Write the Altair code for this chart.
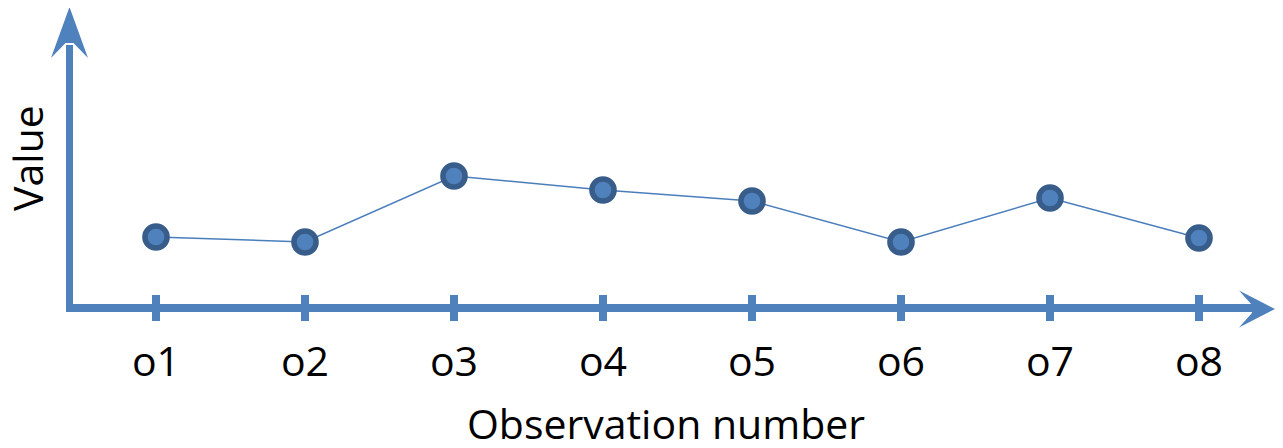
import altair as alt
import pandas as pd

labels = ["o1", "o2", "o3", "o4", "o5", "o6", "o7", "o8"]
index = [1, 2, 3, 4, 5, 6, 7, 8]
values = [3.55, 3.3, 6.6, 5.9, 5.35, 3.3, 5.5, 3.5]

df = pd.DataFrame({"idx": index, "label": labels, "value": values, "zero": [0] * len(index)})

BLUE = "#4F81BD"
DARK = "#385D8A"
FONT = "Open Sans"
FS = 41

xs = alt.Scale(domain=[1, 8], range=[148, 1191])
ys = alt.Scale(domain=[0, 15], range=[300, 0])
one = alt.Data(values=[{}])

base = alt.Chart(df)

line = base.mark_line(color="#4A7EBB", strokeWidth=1.5).encode(
    x=alt.X("idx:Q", scale=xs, axis=None),
    y=alt.Y("value:Q", scale=ys, axis=None),
)
pts = base.mark_point(filled=False, shape="circle", size=490, fill=BLUE, fillOpacity=1,
                      stroke=DARK, strokeWidth=5.5, opacity=1).encode(
    x=alt.X("idx:Q", scale=xs, axis=None),
    y=alt.Y("value:Q", scale=ys, axis=None),
)
ticks = base.mark_tick(orient="vertical", size=26, thickness=8, color=BLUE, opacity=1).encode(
    x=alt.X("idx:Q", scale=xs, axis=None),
    y=alt.Y("zero:Q", scale=ys, axis=None),
)
tlabels = base.mark_text(font=FONT, fontSize=FS, color="black", baseline="alphabetic", align="center").encode(
    x=alt.X("idx:Q", scale=xs, axis=None),
    y=alt.value(368),
    text="label:N",
)

xaxis = alt.Chart(one).mark_rule(color=BLUE, strokeWidth=8, strokeCap="butt").encode(
    x=alt.value(58), x2=alt.value(1248), y=alt.value(300)
)
yaxis = alt.Chart(one).mark_rule(color=BLUE, strokeWidth=7, strokeCap="butt").encode(
    x=alt.value(61.5), y=alt.value(304), y2=alt.value(37)
)
up_arrow = alt.Chart(one).mark_point(
    shape="M0,-1 L0.725,1 L0.157,0.41 L-0.157,0.41 L-0.725,1 Z",
    size=2601, filled=True, color=BLUE, opacity=1, strokeWidth=0,
).encode(x=alt.value(61.5), y=alt.value(24.5))
right_arrow = alt.Chart(one).mark_point(
    shape="M1,0 L-1,-1.03 L-0.28,-0.22 L-0.28,0.22 L-1,1.03 Z",
    size=1296, filled=True, color=BLUE, opacity=1, strokeWidth=0,
).encode(x=alt.value(1249), y=alt.value(301))

xtitle = alt.Chart(one).mark_text(text="Observation number", font=FONT, fontSize=FS, color="black",
                                  baseline="alphabetic", align="center").encode(
    x=alt.value(658), y=alt.value(431)
)
ytitle = alt.Chart(one).mark_text(text="Value", font=FONT, fontSize=FS, color="black", angle=270,
                                  baseline="alphabetic", align="center").encode(
    x=alt.value(35), y=alt.value(150)
)

chart = alt.layer(
    xaxis, yaxis, up_arrow, right_arrow, ticks, line, pts, tlabels, xtitle, ytitle
).properties(
    width=1267, height=432, autosize=alt.AutoSizeParams(type="none"), padding=0
).configure_view(strokeWidth=0)

chart.save("out.html", embed_options={"renderer": "svg", "actions": False})
